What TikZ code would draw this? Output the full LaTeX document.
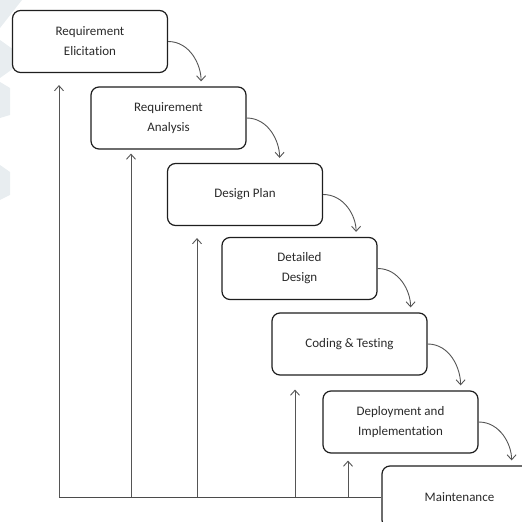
\documentclass[tikz,border=0pt]{standalone}
\usepackage{fontspec}
\setmainfont[Ligatures=NoCommon]{Carlito}
\usetikzlibrary{calc, arrows.meta}
\definecolor{color_line}{HTML}{1E1E1E}
\definecolor{color_text}{HTML}{2A2A2A}
\definecolor{color_arrow}{HTML}{555555}
\definecolor{color_mark}{HTML}{E8EDF0}
\tikzset{
  phase_box/.style={draw=color_line, line width=1.2pt, rounded corners=8pt, fill=white, minimum width=155pt, minimum height=62pt, align=center, text=color_text, inner sep=2pt, font=\fontsize{13}{20}\selectfont},
  flow_arrow/.style={-{Straight Barb[length=5pt, width=9pt]}, draw=color_arrow, line width=0.9pt, shorten >=5pt},
  feedback_arrow/.style={-{Straight Barb[length=5pt, width=9pt]}, draw=color_arrow, line width=0.9pt},
  base_line/.style={draw=color_line!80, line width=1pt},
  water_mark/.style={fill=color_mark, draw=none},
}
\begin{document}
\begin{tikzpicture}[x=1pt, y=1pt]
    \clip (0,0) rectangle (522,522);
    % faint watermark on the left edge
    \fill[water_mark] (0,522) -- (22,522) -- (0,494) -- cycle;
    \fill[water_mark] (0,482) -- (14,472) -- (14,454) -- (0,444) -- cycle;
    \fill[water_mark] (0,440) -- (10,434) -- (10,407) -- (0,404) -- cycle;
    \fill[water_mark] (0,357) -- (10,350) -- (10,327) -- (0,322) -- cycle;
    % phases
    \node[phase_box] (req_elicit) at (90,480.5) {Requirement\\Elicitation};
    \node[phase_box] (req_analysis) at (168.5,404) {Requirement\\Analysis};
    \node[phase_box] (design_plan) at (245,327.5) {Design Plan};
    \node[phase_box] (detail_design) at (299.5,253.5) {Detailed\\Design};
    \node[phase_box] (coding) at (349.5,178) {Coding \& Testing};
    \node[phase_box] (deploy) at (400.5,100) {Deployment and\\Implementation};
    \node[phase_box] (maintenance) at (459.5,25) {Maintenance};
    % cascade
    \foreach \src/\dst in {req_elicit/req_analysis, req_analysis/design_plan, design_plan/detail_design, detail_design/coding, coding/deploy, deploy/maintenance}
      \draw[flow_arrow] (\src.east) to[out=0, in=90] ($(\src.east |- \dst.north)+(33,0)$);
    % feedback lines
    \foreach \phase/\xpos/\gap [count=\i] in {req_elicit/59/12, req_analysis/131/4, design_plan/197/12, coding/295/14, deploy/348/7} {
      \coordinate (foot\i) at (\xpos,24);
      \draw[feedback_arrow, shorten >=\gap pt] (foot\i) -- (foot\i |- \phase.south);
    }
    \draw[base_line] (foot1) -- (foot1 -| maintenance.west);
\end{tikzpicture}
\end{document}
